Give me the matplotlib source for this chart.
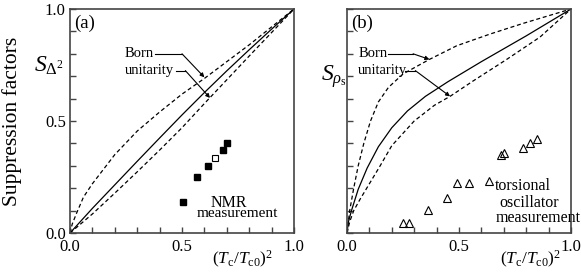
import matplotlib
matplotlib.use("Agg")
import matplotlib.pyplot as plt

plt.rcParams.update({
    "font.family": "Liberation Serif",
    "mathtext.fontset": "custom",
    "mathtext.rm": "Liberation Serif",
    "mathtext.it": "Liberation Serif:italic",
    "font.size": 11,
})

# panel (a): gap suppression, NMR
a_born_x = [0, 0.01, 0.03, 0.06, 0.1, 0.2, 0.3, 0.4, 0.5, 0.6, 0.7, 0.8, 0.9, 1.0]
a_born_y = [0, 0.04, 0.09, 0.16, 0.22, 0.35, 0.455, 0.54, 0.62, 0.69, 0.765, 0.84, 0.92, 1.0]
a_sol_x = [0, 0.1, 0.2, 0.3, 0.4, 0.5, 0.6, 0.7, 0.8, 0.9, 1.0]
a_sol_y = [0, 0.11, 0.215, 0.32, 0.424, 0.527, 0.627, 0.724, 0.818, 0.91, 1.0]
a_uni_x = [0, 0.1, 0.2, 0.3, 0.4, 0.5, 0.6, 0.7, 0.8, 0.9, 1.0]
a_uni_y = [0, 0.085, 0.178, 0.273, 0.37, 0.47, 0.578, 0.684, 0.79, 0.895, 1.0]
nmr_x = [0.503, 0.568, 0.616, 0.685, 0.702]
nmr_y = [0.14, 0.249, 0.30, 0.369, 0.40]
nmr_open_x = [0.649]
nmr_open_y = [0.333]

# panel (b): superfluid density suppression, torsional oscillator
b_born_x = [0, 0.012, 0.03, 0.05, 0.075, 0.105, 0.14, 0.185, 0.25, 0.368, 0.49, 0.638, 0.787, 1.0]
b_born_y = [0, 0.1, 0.2, 0.3, 0.4, 0.5, 0.585, 0.65, 0.71, 0.775, 0.836, 0.888, 0.936, 1.0]
b_sol_x = [0, 0.005, 0.02, 0.05, 0.09, 0.14, 0.2, 0.27, 0.35, 0.45, 0.6, 0.8, 1.0]
b_sol_y = [0, 0.045, 0.1, 0.195, 0.29, 0.385, 0.47, 0.545, 0.61, 0.675, 0.765, 0.88, 1.0]
b_uni_x = [0, 0.012, 0.03, 0.058, 0.1, 0.148, 0.2, 0.3, 0.39, 0.46, 0.565, 0.713, 0.862, 1.0]
b_uni_y = [0, 0.05, 0.1, 0.15, 0.22, 0.3, 0.39, 0.5, 0.57, 0.61, 0.68, 0.775, 0.875, 1.0]
tor_x = [0.25, 0.278, 0.363, 0.448, 0.49, 0.546, 0.635, 0.686, 0.701, 0.784, 0.817, 0.85]
tor_y = [0.043, 0.043, 0.103, 0.155, 0.225, 0.225, 0.232, 0.348, 0.356, 0.378, 0.40, 0.418]

fig = plt.figure(figsize=(5.81, 2.73), dpi=100)
ax1 = fig.add_axes([70/581, 40/273, 224/581, 224/273])
ax2 = fig.add_axes([347/581, 40/273, 224/581, 224/273])

dash = (0, (3.2, 2.2))
arrow = dict(arrowstyle="-|>", lw=0.8, color="k", mutation_scale=6, shrinkA=0, shrinkB=0)
for ax in (ax1, ax2):
    ax.set_xlim(0, 1)
    ax.set_ylim(0, 1)
    for s in ax.spines.values():
        s.set_linewidth(1.2)
        s.set_color("#444444")
    ax.set_xticks([0, 0.5, 1.0])
    ax.set_xticks([i / 10 for i in range(11)], minor=True)
    ax.set_yticks([i / 10 for i in range(11)], minor=True)
    ax.tick_params(which="both", direction="in", length=4, width=1, color="#444444",
                   top=False, right=False, labelsize=12, pad=3)
    ax.tick_params(axis="x", pad=4)
    ax.set_xticklabels(["0.0", "0.5", "1.0"])

ax1.set_yticks([0, 0.5, 1.0])
ax1.set_yticklabels(["0.0", "0.5", "1.0"])
ax2.set_yticks([])
ax2.set_yticks([i / 10 for i in range(11)], minor=True)

# (a)
ax1.plot(a_born_x, a_born_y, color="k", lw=0.9, linestyle=dash)
ax1.plot(a_sol_x, a_sol_y, color="k", lw=0.9)
ax1.plot(a_uni_x, a_uni_y, color="k", lw=0.9, linestyle=dash)
ax1.plot(nmr_x, nmr_y, "s", color="k", ms=4.2)
ax1.plot(nmr_open_x, nmr_open_y, "s", mfc="white", mec="k", mew=0.8, ms=4.2)
ax1.text(0.02, 0.975, "(a)", transform=ax1.transAxes, va="top", ha="left", fontsize=13.5)
ax1.text(0.71, 0.115, "NMR", ha="center", va="baseline", fontsize=11.5)
ax1.text(0.745, 0.072, "measurement", ha="center", va="baseline", fontsize=11)
ax1.text(0.245, 0.80, "Born", ha="left", va="center", fontsize=10.5)
ax1.text(0.245, 0.725, "unitarity", ha="left", va="center", fontsize=10.5)
ax1.plot([0.38, 0.5], [0.80, 0.80], color="k", lw=0.8)
ax1.annotate("", xy=(0.60, 0.695), xytext=(0.5, 0.80), arrowprops=arrow)
ax1.plot([0.475, 0.515], [0.725, 0.725], color="k", lw=0.8)
ax1.annotate("", xy=(0.625, 0.603), xytext=(0.515, 0.725), arrowprops=arrow)
ax1.set_xlabel(r"$(T_{\rm c}/T_{\rm c0})^2$", fontsize=12.5)
ax1.xaxis.set_label_coords(0.77, -0.07)
ax1.set_ylabel("Suppression factors", fontsize=15.5)
ax1.yaxis.set_label_coords(-0.215, 0.5)
ax1.text(-0.095, 0.745, r"$S_{\Delta^2}$", transform=ax1.transAxes, ha="center", va="center", fontsize=17)

# (b)
ax2.plot(b_born_x, b_born_y, color="k", lw=0.9, linestyle=dash)
ax2.plot(b_sol_x, b_sol_y, color="k", lw=0.9)
ax2.plot(b_uni_x, b_uni_y, color="k", lw=0.9, linestyle=dash)
ax2.plot(tor_x, tor_y, "^", mfc="none", mec="k", mew=0.8, ms=6)
ax2.text(0.02, 0.975, "(b)", transform=ax2.transAxes, va="top", ha="left", fontsize=13.5)
ax2.text(0.785, 0.21, "torsional", ha="center", va="center", fontsize=11.5)
ax2.text(0.815, 0.133, "oscillator", ha="center", va="center", fontsize=11.5)
ax2.text(0.855, 0.066, "measurement", ha="center", va="center", fontsize=11.5)
ax2.text(0.05, 0.80, "Born", ha="left", va="center", fontsize=10.5)
ax2.text(0.05, 0.725, "unitarity", ha="left", va="center", fontsize=10.5)
ax2.plot([0.185, 0.295], [0.80, 0.80], color="k", lw=0.8)
ax2.annotate("", xy=(0.368, 0.775), xytext=(0.295, 0.80), arrowprops=arrow)
ax2.plot([0.26, 0.305], [0.725, 0.725], color="k", lw=0.8)
ax2.annotate("", xy=(0.46, 0.61), xytext=(0.305, 0.725), arrowprops=arrow)
ax2.set_xlabel(r"$(T_{\rm c}/T_{\rm c0})^2$", fontsize=12.5)
ax2.xaxis.set_label_coords(0.82, -0.07)
ax2.text(-0.06, 0.70, r"$S_{\rho_{\rm s}}$", transform=ax2.transAxes, ha="center", va="center", fontsize=17)

fig.savefig("out.png", dpi=100)
